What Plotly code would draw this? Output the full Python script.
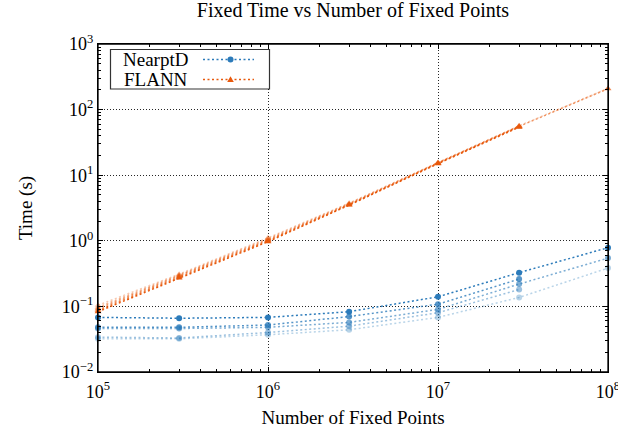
import plotly.graph_objects as go

# ---- data ----
n_points = [1e5, 3e5, 1e6, 3e6, 1e7, 3e7, 1e8]

nearptd_1 = [0.068, 0.066, 0.068, 0.083, 0.140, 0.327, 0.785]
nearptd_2 = [0.048, 0.048, 0.052, 0.070, 0.108, 0.261]
nearptd_3 = [0.046, 0.046, 0.048, 0.057, 0.090, 0.219, 0.545]
nearptd_4 = [0.034, 0.033, 0.040, 0.050, 0.080, 0.181]
nearptd_5 = [0.032, 0.032, 0.037, 0.044, 0.068, 0.137, 0.384]

flann_1 = [0.083, 0.270, 0.97, 3.50, 15.0, 54.0]
flann_2 = [0.087, 0.280, 1.00, 3.55, 15.2, 55.0]
flann_3 = [0.092, 0.290, 1.03, 3.60, 15.3, 55.5, 208]
flann_4 = [0.097, 0.300, 1.07, 3.70, 15.5, 56.0]
flann_5 = [0.104, 0.310, 1.11, 3.75, 15.6, 56.5, 210]

x_tick_vals = [1e5, 1e6, 1e7, 1e8]
x_tick_text = ["10<sup>5</sup>", "10<sup>6</sup>", "10<sup>7</sup>", "10<sup>8</sup>"]
y_tick_vals = [1e-2, 1e-1, 1e0, 1e1, 1e2, 1e3]
y_tick_text = ["10<sup>\u22122</sup>", "10<sup>\u22121</sup>", "10<sup>0</sup>",
               "10<sup>1</sup>", "10<sup>2</sup>", "10<sup>3</sup>"]

nearptd_series = [nearptd_1, nearptd_2, nearptd_3, nearptd_4, nearptd_5]
flann_series = [flann_1, flann_2, flann_3, flann_4, flann_5]
alphas = [1.0, 0.8, 0.62, 0.47, 0.33]

title = "Fixed Time vs Number of Fixed Points"
x_title = "Number of Fixed Points"
y_title = "Time (s)"
legend_names = ["NearptD", "FLANN"]

BLUE = (44, 123, 186)
ORANGE = (232, 89, 12)
FONT = "Liberation Serif"
DASH = "2px,2.5px"

def rgba(c, a):
    return f"rgba({c[0]},{c[1]},{c[2]},{a})"

def minor_vals(e0, e1):
    return [m * 10.0 ** e for e in range(e0, e1) for m in range(2, 10)]

fig = go.Figure()
for vals, a in zip(flann_series, alphas):
    fig.add_trace(go.Scatter(
        x=n_points[:len(vals)], y=vals, mode="lines+markers", cliponaxis=False,
        line=dict(color=rgba(ORANGE, a), width=1.5, dash=DASH),
        marker=dict(symbol="triangle-up", size=6, color=rgba(ORANGE, a)),
        showlegend=False, name=legend_names[1]))
for vals, a in zip(nearptd_series, alphas):
    fig.add_trace(go.Scatter(
        x=n_points[:len(vals)], y=vals, mode="lines+markers", cliponaxis=False,
        line=dict(color=rgba(BLUE, a), width=1.5, dash=DASH),
        marker=dict(symbol="circle", size=6, color=rgba(BLUE, a)),
        showlegend=False, name=legend_names[0]))

axis_common = dict(
    type="log", automargin=False,
    showline=True, linecolor="black", linewidth=1.3, mirror="ticks",
    ticks="inside", ticklen=5, tickcolor="black",
    showgrid=True, gridcolor="rgba(0,0,0,0.85)", griddash="1px,2px", gridwidth=1,
    zeroline=False, ticklabeloverflow="allow",
    tickfont=dict(family=FONT, size=18, color="black"),
)

fig.update_xaxes(range=[5, 8], tickvals=x_tick_vals, ticktext=x_tick_text, ticklabelstandoff=3,
                 minor=dict(tickvals=minor_vals(5, 8), ticks="inside", ticklen=3, tickcolor="black", showgrid=False),
                 title=dict(text=x_title, font=dict(family=FONT, size=19, color="black"), standoff=11),
                 **axis_common)
fig.update_yaxes(range=[-2, 3], tickvals=y_tick_vals, ticktext=y_tick_text,
                 minor=dict(tickvals=minor_vals(-2, 3), ticks="inside", ticklen=3, tickcolor="black", showgrid=False),
                 title=dict(text=y_title, font=dict(family=FONT, size=19, color="black"), standoff=24),
                 **axis_common)

# frame + custom legend (text left, sample right)
def px(xp):
    return (xp - 98) / 510.0
def py(yp):
    return (372 - yp) / 328.0

shapes = [dict(type="rect", xref="paper", yref="paper", x0=0, x1=1, y0=0, y1=1,
               line=dict(color="black", width=1.3), layer="above"),
          dict(type="rect", xref="paper", yref="paper",
               x0=px(110.5), x1=px(269.5), y0=py(89), y1=py(49.5),
               line=dict(color="rgba(0,0,0,0.8)", width=1.2), fillcolor="white", layer="above")]
annotations = []
rows = [(legend_names[0], 59.5, BLUE, "circle"), (legend_names[1], 79.5, ORANGE, "triangle")]
for name, yy, col, sym in rows:
    annotations.append(dict(text=name, xref="paper", yref="paper", x=px(190), y=py(yy),
                            xanchor="right", yanchor="middle", showarrow=False,
                            font=dict(family=FONT, size=19, color="black")))
    shapes.append(dict(type="line", xref="paper", yref="paper", x0=px(203), x1=px(254),
                       y0=py(yy), y1=py(yy), line=dict(color=rgba(col, 1), width=1.4, dash=DASH), layer="above"))
    cx, cy = 230.5, yy
    if sym == "circle":
        shapes.append(dict(type="circle", xref="paper", yref="paper",
                           x0=px(cx - 3), x1=px(cx + 3), y0=py(cy + 3), y1=py(cy - 3),
                           fillcolor=rgba(col, 1), line=dict(width=0), layer="above"))
    else:
        path = f"M {px(cx-3.3)},{py(cy+2.5)} L {px(cx+3.3)},{py(cy+2.5)} L {px(cx)},{py(cy-3.2)} Z"
        shapes.append(dict(type="path", xref="paper", yref="paper", path=path,
                           fillcolor=rgba(col, 1), line=dict(width=0), layer="above"))

fig.update_layout(
    width=618, height=428,
    margin=dict(l=98, r=10, t=44, b=56, autoexpand=False),
    paper_bgcolor="white", plot_bgcolor="white",
    title=dict(text=title, x=(98 + 608) / 2 / 618, xanchor="center", y=1 - 10 / 428, yanchor="middle",
               font=dict(family=FONT, size=20, color="black")),
    shapes=shapes, annotations=annotations,
    showlegend=False,
)

fig.write_html("out.html", config={"displayModeBar": False},
               post_script="document.body.style.margin='0';document.body.style.overflow='hidden';")
